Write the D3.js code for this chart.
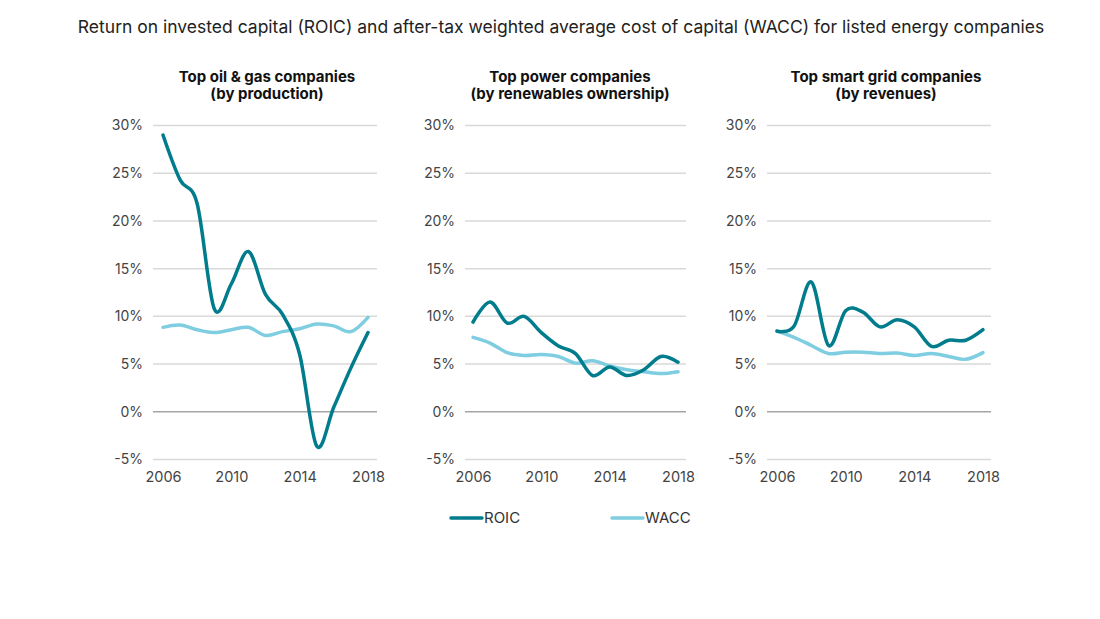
<!DOCTYPE html>
<html>
<head>
<meta charset="utf-8">
<script src="https://cdn.jsdelivr.net/npm/d3@7"></script>
<style>
  html, body { margin: 0; padding: 0; background: #fff; }
  svg { display: block; font-family: Inter, "Open Sans", sans-serif; }
</style>
</head>
<body>
<svg id="chart" width="1100" height="619"></svg>
<script>
const years = [2006, 2007, 2008, 2009, 2010, 2011, 2012, 2013, 2014, 2015, 2016, 2017, 2018];
const xTickLabels = [2006, 2010, 2014, 2018];
const yTickLabels = [-5, 0, 5, 10, 15, 20, 25, 30];
const seriesNames = ["ROIC", "WACC"];
const panelTitles = [
  ["Top oil & gas companies", "(by production)"],
  ["Top power companies", "(by renewables ownership)"],
  ["Top smart grid companies", "(by revenues)"]
];
const oilGasROIC  = [29.0, 24.3, 21.8, 10.8, 13.4, 16.8, 12.3, 10.2, 6.0, -3.6, 0.5, 4.6, 8.3];
const oilGasWACC  = [8.85, 9.1, 8.6, 8.3, 8.6, 8.85, 8.0, 8.4, 8.7, 9.2, 9.0, 8.4, 9.9];
const powerROIC   = [9.4, 11.5, 9.3, 10.0, 8.3, 6.9, 6.1, 3.8, 4.7, 3.8, 4.4, 5.8, 5.2];
const powerWACC   = [7.8, 7.2, 6.2, 5.9, 6.0, 5.8, 5.1, 5.35, 4.8, 4.4, 4.2, 4.0, 4.2];
const gridROIC    = [8.45, 9.0, 13.6, 6.95, 10.6, 10.45, 8.9, 9.65, 8.9, 6.85, 7.5, 7.5, 8.6];
const gridWACC    = [8.45, 7.8, 6.95, 6.1, 6.25, 6.25, 6.1, 6.15, 5.9, 6.1, 5.8, 5.5, 6.2];

const panelSeries = [
  [oilGasROIC, oilGasWACC],
  [powerROIC, powerWACC],
  [gridROIC, gridWACC]
];

const colors = { ROIC: "#007c8c", WACC: "#7fcde0" };

// layout
const panelGeom = [
  { gridL: 153, gridR: 377, x0: 163, x1: 368, titleX: 267 },
  { gridL: 465, gridR: 686, x0: 473, x1: 678, titleX: 570 },
  { gridL: 767, gridR: 991, x0: 777, x1: 983, titleX: 886 }
];
const yTop = 125.5, yBottom = 459.5;

const svg = d3.select("#chart");

svg.append("text")
  .attr("x", 561).attr("y", 33)
  .attr("text-anchor", "middle")
  .attr("font-size", 17.5)
  .attr("fill", "#222")
  .text("Return on invested capital (ROIC) and after-tax weighted average cost of capital (WACC) for listed energy companies");

const y = d3.scaleLinear().domain([-5, 30]).range([yBottom, yTop]);

panelGeom.forEach((g, i) => {
  const x = d3.scaleLinear().domain([2006, 2018]).range([g.x0, g.x1]);
  const p = svg.append("g");

  // title
  const t = p.append("text")
    .attr("x", g.titleX).attr("y", 82)
    .attr("text-anchor", "middle")
    .attr("font-size", 15)
    .attr("font-weight", "bold")
    .attr("fill", "#111");
  panelTitles[i].forEach((line, k) => {
    t.append("tspan").attr("x", g.titleX).attr("dy", k === 0 ? 0 : 17).text(line);
  });

  // gridlines
  p.selectAll("line.grid").data(yTickLabels).join("line")
    .attr("class", "grid")
    .attr("x1", g.gridL).attr("x2", g.gridR)
    .attr("y1", d => y(d)).attr("y2", d => y(d))
    .attr("stroke", d => d === 0 ? "#a6a6a6" : "#d9d9d9")
    .attr("stroke-width", 1.5);

  // y axis labels
  const yAxis = d3.axisLeft(y).tickValues(yTickLabels).tickFormat(d => d + "%").tickSize(0).tickPadding(0);
  const ya = p.append("g").attr("transform", `translate(${g.gridL - 10},0)`).call(yAxis);
  ya.select(".domain").remove();
  ya.selectAll("text").attr("font-size", 14).attr("fill", "#444").attr("font-family", "Inter, 'Open Sans', sans-serif");

  // x axis labels
  const xAxis = d3.axisBottom(x).tickValues(xTickLabels).tickFormat(d3.format("d")).tickSize(0).tickPadding(0);
  const xa = p.append("g").attr("transform", `translate(0,${472})`).call(xAxis);
  xa.select(".domain").remove();
  xa.selectAll("text").attr("font-size", 14.5).attr("fill", "#444").attr("font-family", "Inter, 'Open Sans', sans-serif");

  // lines
  const line = d3.line().x((d, j) => x(years[j])).y(d => y(d)).curve(d3.curveCardinal.tension(0));
  [1, 0].forEach(si => {
    p.append("path")
      .datum(panelSeries[i][si])
      .attr("d", line)
      .attr("fill", "none")
      .attr("stroke", colors[seriesNames[si]])
      .attr("stroke-width", 3.5)
      .attr("stroke-linecap", "round")
      .attr("stroke-linejoin", "round");
  });
});

// legend
const legendItems = [
  { name: "ROIC", x: 451 },
  { name: "WACC", x: 612 }
];
legendItems.forEach(l => {
  svg.append("line")
    .attr("x1", l.x).attr("x2", l.x + 31)
    .attr("y1", 518).attr("y2", 518)
    .attr("stroke", colors[l.name]).attr("stroke-width", 3.5)
    .attr("stroke-linecap", "round");
  svg.append("text")
    .attr("x", l.x + 33).attr("y", 523)
    .attr("font-size", 15).attr("fill", "#333")
    .text(l.name);
});
</script>
</body>
</html>
